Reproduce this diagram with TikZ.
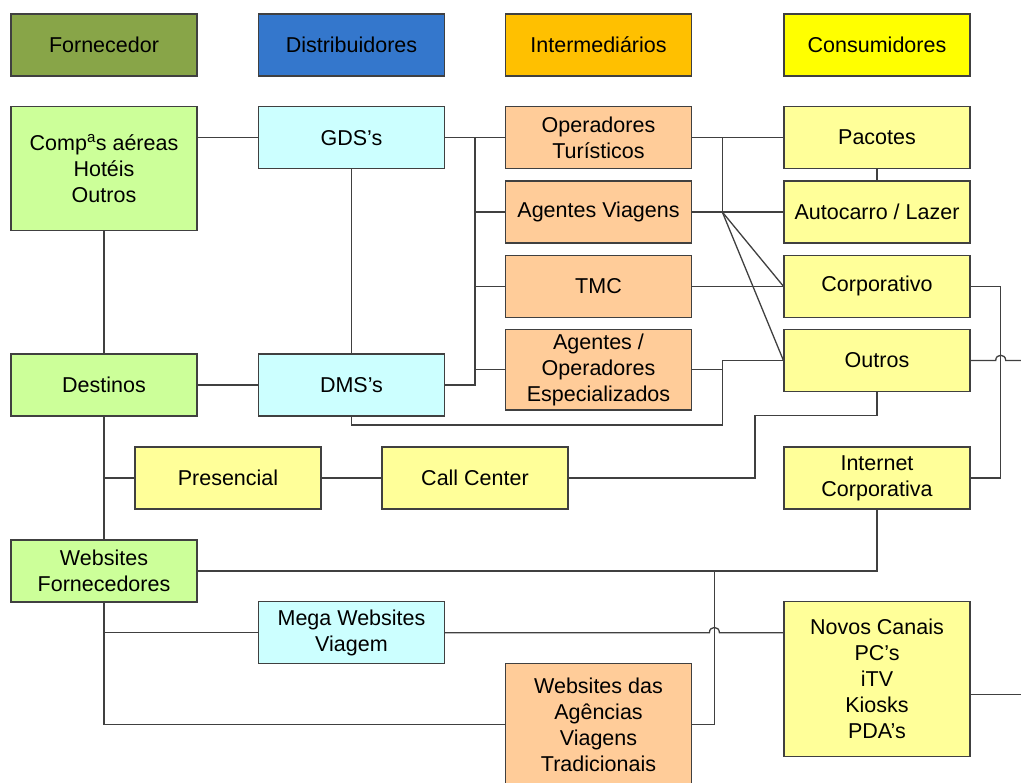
\documentclass[tikz,border=0pt]{standalone}
\usepackage{fontspec}
\setmainfont{Liberation Sans}
\definecolor{hdGreen}{HTML}{88A548}
\definecolor{hdBlue}{HTML}{3477CC}
\definecolor{hdOrange}{HTML}{FFC000}
\definecolor{hdYellow}{HTML}{FFFF00}
\definecolor{ltGreen}{HTML}{CCFF99}
\definecolor{ltCyan}{HTML}{CCFFFF}
\definecolor{ltOrange}{HTML}{FFCC99}
\definecolor{ltYellow}{HTML}{FFFF99}
\definecolor{edge}{HTML}{404040}
\tikzset{
  box/.style={draw=edge, line width=1.1pt, rectangle, align=center,
    minimum width=186pt, minimum height=62pt, inner sep=0pt,
    font=\fontsize{21.5}{26}\selectfont},
  conn/.style={draw=edge, line width=1.3pt},
}
\newcommand{\hopx}[2]{-- (#1-5,#2) .. controls (#1-5,#2-7) and (#1+5,#2-7) .. (#1+5,#2)}
\begin{document}
\begin{tikzpicture}[x=1pt, y=-1pt]
\useasboundingbox (0,0) rectangle (1021,783);
\fill[white] (0,0) rectangle (1021,783);

% column headers
\node[box, fill=hdGreen]  (hF) at (104,45)   {Fornecedor};
\node[box, fill=hdBlue]   (hD) at (351.5,45) {Distribuidores};
\node[box, fill=hdOrange] (hI) at (598.5,45) {Intermediários};
\node[box, fill=hdYellow] (hC) at (877,45)   {Consumidores};

% suppliers
\node[box, fill=ltGreen, minimum height=124pt] (comp) at (104,168.7) {Comp\textsuperscript{a}s aéreas\\Hotéis\\Outros};
\node[box, fill=ltGreen] (dest) at (104,385) {Destinos};
\node[box, fill=ltGreen] (wf) at (104,571) {Websites\\Fornecedores};

% distributors
\node[box, fill=ltCyan] (gds) at (351.5,137.7) {GDS’s};
\node[box, fill=ltCyan] (dms) at (351.5,385) {DMS’s};
\node[box, fill=ltCyan] (mega) at (351.5,632.7) {Mega Websites\\Viagem};

% intermediaries
\node[box, fill=ltOrange] (ot) at (598.5,137.7) {Operadores\\Turísticos};
\node[box, fill=ltOrange] (av) at (598.5,212) {Agentes Viagens};
\node[box, fill=ltOrange] (tmc) at (598.5,286.3) {TMC};
\node[box, fill=ltOrange, minimum height=80.7pt] (aoe) at (598.5,369.7) {Agentes /\\Operadores\\Especializados};
\node[box, fill=ltOrange, minimum height=121.6pt] (wda) at (598.5,724.5) {Websites das\\Agências\\Viagens\\Tradicionais};

% consumers and channels
\node[box, fill=ltYellow] (pac) at (877,137.7) {Pacotes};
\node[box, fill=ltYellow] (auto) at (877,212) {Autocarro / Lazer};
\node[box, fill=ltYellow] (corp) at (877,286.3) {Corporativo};
\node[box, fill=ltYellow] (outr) at (877,360.5) {Outros};
\node[box, fill=ltYellow] (pres) at (228,478) {Presencial};
\node[box, fill=ltYellow] (cc) at (475,478) {Call Center};
\node[box, fill=ltYellow] (ic) at (877,478) {Internet\\Corporativa};
\node[box, fill=ltYellow, minimum height=154.3pt] (nc) at (877,679) {Novos Canais\\PC’s\\iTV\\Kiosks\\PDA’s};

% junction points
\coordinate (bus) at (475,137.7);
\coordinate (fan) at (722.3,212);
\coordinate (rbus) at (1000.7,286.3);
\coordinate (webx) at (714.4,571);
\coordinate (ncOut) at (1021,694.3);

% supplier side
\draw[conn] (comp.east |- gds.west) -- (gds.west);
\draw[conn] (comp.south) -- (dest.north);
\draw[conn] (gds.south) -- (dms.north);
\draw[conn] (dest.east) -- (dms.west);
\draw[conn] (dest.south) -- (wf.north);
\draw[conn] (dest.south |- pres.west) -- (pres.west);
\draw[conn] (pres.east) -- (cc.west);
\draw[conn] (wf.south) -- (wf.south |- wda.west) -- (wda.west);
\draw[conn] (wf.south |- mega.west) -- (mega.west);

% distributor bus to intermediaries
\draw[conn] (gds.east) -- (ot.west);
\draw[conn] (bus) -- (bus |- dms.east) -- (dms.east);
\draw[conn] (bus |- av.west) -- (av.west);
\draw[conn] (bus |- tmc.west) -- (tmc.west);
\draw[conn] (bus |- aoe.west) -- (aoe.west);

% intermediaries to consumers
\draw[conn] (ot.east) -- (pac.west);
\draw[conn] (fan |- ot.east) -- (fan);
\draw[conn] (av.east) -- (auto.west);
\draw[conn] (fan) -- (corp.west);
\draw[conn] (fan) -- (outr.west);
\draw[conn] (tmc.east) -- (corp.west);
\draw[conn] (pac.south) -- (auto.north);
\draw[conn] (aoe.east) -- (fan |- aoe.east);
\draw[conn] (dms.south) -- (351.5,425) -- (722.3,425) -- (fan |- outr.west) -- (outr.west);

% right-hand links
\draw[conn] (corp.east) -- (rbus) -- (rbus |- ic.east) -- (ic.east);
\draw[conn] (outr.east) \hopx{1000.7}{360.5} -- (1021,360.5);
\draw[conn] (outr.south) -- (877,415.7) -- (755,415.7) -- (755,478) -- (cc.east);
\draw[conn] (ic.south) -- (ic.south |- webx) -- (wf.east);
\draw[conn] (wda.east) -- (webx |- wda.east) -- (webx);
\draw[conn] (mega.east) \hopx{714.4}{632.7} -- (nc.west |- mega.east);
\draw[conn] (ncOut -| nc.east) -- (ncOut);
\end{tikzpicture}
\end{document}
